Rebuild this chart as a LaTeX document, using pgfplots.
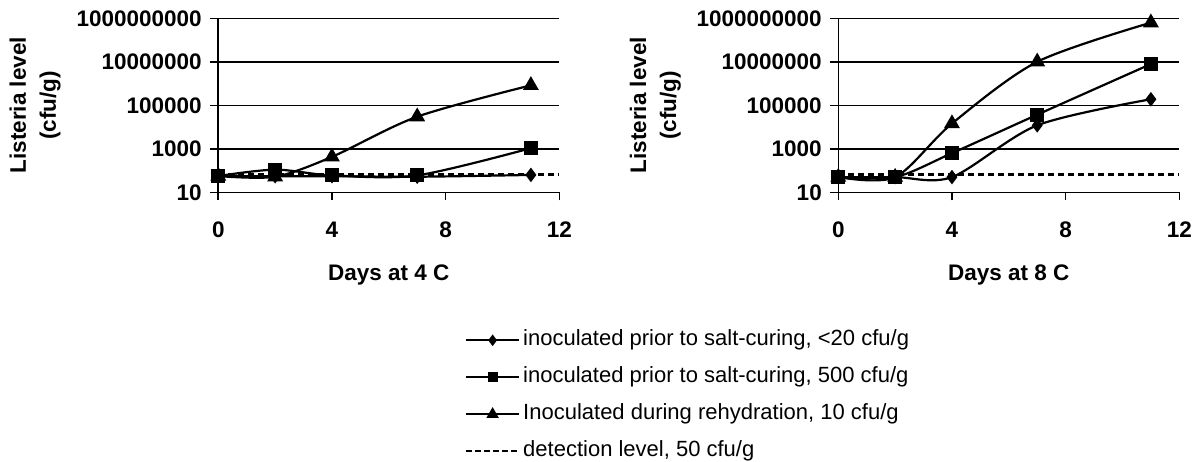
\documentclass[border=0pt]{standalone}
\usepackage{fontspec}
\setmainfont{Liberation Sans}
\usepackage{pgfplots}
\pgfplotsset{compat=1.18}
\pgfplotsset{
  every axis/.append style={
    ymode=log, log basis y=10,
    scale only axis, width=341pt, height=174pt,
    xmin=0, xmax=12, ymin=10, ymax=1e9,
    axis x line*=bottom, axis y line*=left,
    axis line style={black, line width=1.6pt},
    xtick={0,4,8,12}, xticklabels={0,4,8,12},
    ytick={10,1000,100000,10000000,1000000000},
    yticklabels={10,1000,100000,10000000,1000000000},
    minor ytick={},
    ymajorgrids, grid style={black, line width=1.6pt},
    tick align=outside, major tick length=8pt,
    tick style={black, line width=1.6pt},
    ticklabel style={font=\bfseries\fontsize{22.5}{22.5}\selectfont},
    xticklabel style={yshift=-18pt},
    yticklabel style={xshift=-5pt},
    label style={font=\bfseries\fontsize{22.5}{30}\selectfont},
    xlabel style={yshift=-20pt},
    ylabel style={align=center, yshift=9pt},
    ylabel={Listeria level\\(cfu/g)},
    clip=false,
  },
}
\begin{document}
\begin{tikzpicture}
\useasboundingbox (0pt,0pt) rectangle (1199pt,-461pt);
\begin{axis}[at={(218.3pt,-192.3pt)}, anchor=south west,
  xlabel={Days at 4 C},
  legend cell align=left,
  legend image code/.code={
    \draw[mark repeat=2,mark phase=2,#1] plot coordinates {(0pt,0pt) (26.5pt,0pt) (53pt,0pt)};
  },
  legend style={at={(axis description cs:0.7235,-0.79)}, anchor=north west,
    draw=none, fill=none, inner sep=0pt, outer sep=0pt,
    font=\fontsize{22}{22}\selectfont, row sep=16pt,
    nodes={inner ysep=0pt, inner xsep=3pt, text height=16pt, text depth=5pt}},
]
\addplot[black, line width=2.4pt, dash pattern=on 6pt off 4pt, forget plot] coordinates {(0,67) (12,67)};
\addplot[black, line width=2.2pt, smooth, mark=diamond*, mark size=5.5pt, mark options={solid, fill=black}, forget plot] coordinates {(0,56) (2,55) (4,55) (7,52) (11,63)};
\addplot[black, line width=2.2pt, smooth, mark=square*, mark size=5.8pt, mark options={solid, fill=black}, forget plot] coordinates {(0,56) (2,110) (4,60) (7,60) (11,1070)};
\addplot[black, line width=2.2pt, smooth, mark=triangle*, mark size=7pt, mark options={solid, fill=black}, forget plot] coordinates {(0,56) (2,52) (4,427) (7,30000) (11,830000)};
\addlegendimage{black, line width=2.2pt, mark=diamond*, mark size=4pt, mark options={solid, fill=black}}
\addlegendentry{inoculated prior to salt-curing, <20 cfu/g}
\addlegendimage{black, line width=2.2pt, mark=square*, mark size=3.8pt, mark options={solid, fill=black}}
\addlegendentry{inoculated prior to salt-curing, 500 cfu/g}
\addlegendimage{black, line width=2.2pt, mark=triangle*, mark size=5pt, mark options={solid, fill=black}}
\addlegendentry{Inoculated during rehydration, 10 cfu/g}
\addlegendimage{black, line width=1.6pt, dash pattern=on 6pt off 3pt}
\addlegendentry{detection level, 50 cfu/g}
\end{axis}
\begin{axis}[at={(838.3pt,-192.3pt)}, anchor=south west,
  xlabel={Days at 8 C}]
\addplot[black, line width=2.4pt, dash pattern=on 6pt off 4pt] coordinates {(0,67) (12,67)};
\addplot[black, line width=2.2pt, smooth, mark=diamond*, mark size=5.5pt, mark options={solid, fill=black}] coordinates {(0,50) (2,50) (4,50) (7,12000) (11,190000)};
\addplot[black, line width=2.2pt, smooth, mark=square*, mark size=5.8pt, mark options={solid, fill=black}] coordinates {(0,50) (2,50) (4,630) (7,37000) (11,7900000)};
\addplot[black, line width=2.2pt, smooth, mark=triangle*, mark size=7pt, mark options={solid, fill=black}] coordinates {(0,50) (2,50) (4,14500) (7,10000000) (11,630000000)};
\end{axis}
\end{tikzpicture}
\end{document}
